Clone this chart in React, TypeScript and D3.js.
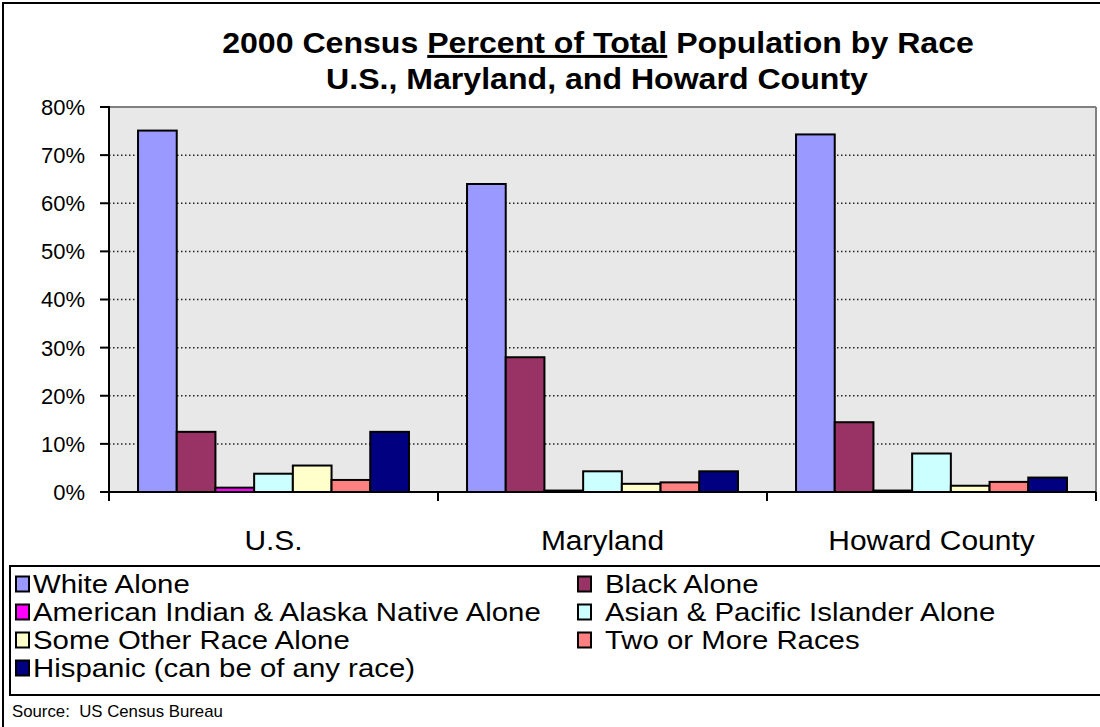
import React from "react";
import * as d3 from "d3";

const categories = ["U.S.", "Maryland", "Howard County"];
const seriesNames = [
  "White Alone",
  "Black Alone",
  "American Indian & Alaska Native Alone",
  "Asian & Pacific Islander Alone",
  "Some Other Race Alone",
  "Two or More Races",
  "Hispanic (can be of any race)",
];
const seriesColors = ["#9999FF", "#993366", "#FF00FF", "#CCFFFF", "#FFFFCC", "#FF8080", "#000080"];
const usValues = [75.1, 12.5, 0.9, 3.8, 5.5, 2.5, 12.5];
const marylandValues = [64.0, 28.0, 0.3, 4.3, 1.7, 2.0, 4.3];
const howardValues = [74.3, 14.5, 0.3, 8.0, 1.3, 2.1, 3.0];
const yTicks = [0, 10, 20, 30, 40, 50, 60, 70, 80];

const groupValues = [usValues, marylandValues, howardValues];

function SText(props: { x: number; y: number; sx: number; size: number; anchor?: string; bold?: boolean; dy?: string; children: React.ReactNode }) {
  const { x, y, sx, size, anchor, bold, dy, children } = props;
  return (
    <text
      transform={`translate(${x},${y}) scale(${sx},1)`}
      x={0}
      y={0}
      dy={dy}
      textAnchor={anchor || "start"}
      fontSize={size}
      fontWeight={bold ? "bold" : "normal"}
      fill="#000"
      style={{ whiteSpace: "pre" }}
    >
      {children}
    </text>
  );
}

export default function App() {
  const W = 1100, H = 727;
  const plot = { left: 109, right: 1096, top: 107, bottom: 492 };
  const x0 = d3.scaleBand<string>().domain(categories).range([plot.left, plot.right]).paddingInner(0).paddingOuter(0);
  const x1 = d3.scaleBand<string>().domain(seriesNames).range([0, x0.bandwidth()]).paddingInner(0).paddingOuter(0.75);
  const y = d3.scaleLinear().domain([0, 80]).range([plot.bottom, plot.top]);
  const font = "Arial, 'Liberation Sans', Helvetica, sans-serif";

  const legendSquareX = [16, 578];
  const legendTextX = [33, 605];
  const legendRows = [584, 612, 640, 668];

  return (
    <svg width={W} height={H} style={{ position: "absolute", left: 0, top: 0, background: "#fff" }} fontFamily={font}>
      {/* outer border */}
      <rect x={3} y={3} width={1200} height={900} fill="#fff" stroke="#000" strokeWidth={2} />
      {/* title */}
      <SText x={598} y={53} sx={1.07} size={30} anchor="middle" bold>
        <tspan>2000 Census </tspan>
        <tspan textDecoration="underline">Percent of Total</tspan>
        <tspan> Population by Race</tspan>
      </SText>
      <SText x={597} y={89} sx={1.07} size={30} anchor="middle" bold>
        U.S., Maryland, and Howard County
      </SText>
      {/* plot background */}
      <rect x={plot.left} y={plot.top} width={plot.right - plot.left} height={plot.bottom - plot.top} fill="#E8E8E8" />
      <line x1={plot.left} x2={plot.right} y1={plot.top} y2={plot.top} stroke="#808080" strokeWidth={2} />
      <line x1={plot.right} x2={plot.right} y1={plot.top} y2={plot.bottom} stroke="#808080" strokeWidth={2} />
      {/* gridlines */}
      {yTicks.filter((t) => t > 0 && t < 80).map((t) => (
        <line key={"g" + t} x1={plot.left} x2={plot.right} y1={y(t)} y2={y(t)} stroke="#222" strokeWidth={1.5} strokeDasharray="1.5,2.5" />
      ))}
      {/* bars */}
      {categories.map((c, ci) => (
        <g key={c} transform={`translate(${x0(c)},0)`}>
          {seriesNames.map((s, si) => {
            const v = groupValues[ci][si];
            return (
              <rect key={s} x={x1(s)} y={y(v)} width={x1.bandwidth()} height={y(0) - y(v)} fill={seriesColors[si]} stroke="#000" strokeWidth={2} />
            );
          })}
        </g>
      ))}
      {/* axes */}
      <line x1={plot.left} x2={plot.left} y1={plot.top - 1} y2={plot.bottom} stroke="#000" strokeWidth={2} />
      <line x1={plot.left - 9} x2={plot.right} y1={plot.bottom} y2={plot.bottom} stroke="#000" strokeWidth={2} />
      {yTicks.map((t) => (
        <g key={"t" + t}>
          <line x1={plot.left - 9} x2={plot.left} y1={y(t)} y2={y(t)} stroke="#000" strokeWidth={2} />
          <SText x={85} y={y(t)} sx={1.0} size={22} anchor="end" dy="0.36em">{t}%</SText>
        </g>
      ))}
      {[...categories.map((c) => x0(c) as number), plot.right].map((xx, i) => (
        <line key={"ct" + i} x1={xx} x2={xx} y1={plot.bottom} y2={plot.bottom + 9} stroke="#000" strokeWidth={2} />
      ))}
      {categories.map((c) => (
        <SText key={"cl" + c} x={(x0(c) as number) + x0.bandwidth() / 2} y={550} sx={1.07} size={28} anchor="middle">{c}</SText>
      ))}
      {/* legend */}
      <rect x={10} y={566} width={1200} height={129} fill="#fff" stroke="#000" strokeWidth={2} />
      {seriesNames.map((s, i) => {
        const col = i % 2, row = Math.floor(i / 2);
        const ly = legendRows[row];
        return (
          <g key={"lg" + s}>
            <rect x={legendSquareX[col]} y={ly - 7.5} width={13} height={15} fill={seriesColors[i]} stroke="#000" strokeWidth={2} />
            <SText x={legendTextX[col]} y={ly} sx={1.13} size={26} dy="0.36em">{s}</SText>
          </g>
        );
      })}
      <SText x={12} y={717} sx={1.05} size={16}>Source:  US Census Bureau</SText>
    </svg>
  );
}
